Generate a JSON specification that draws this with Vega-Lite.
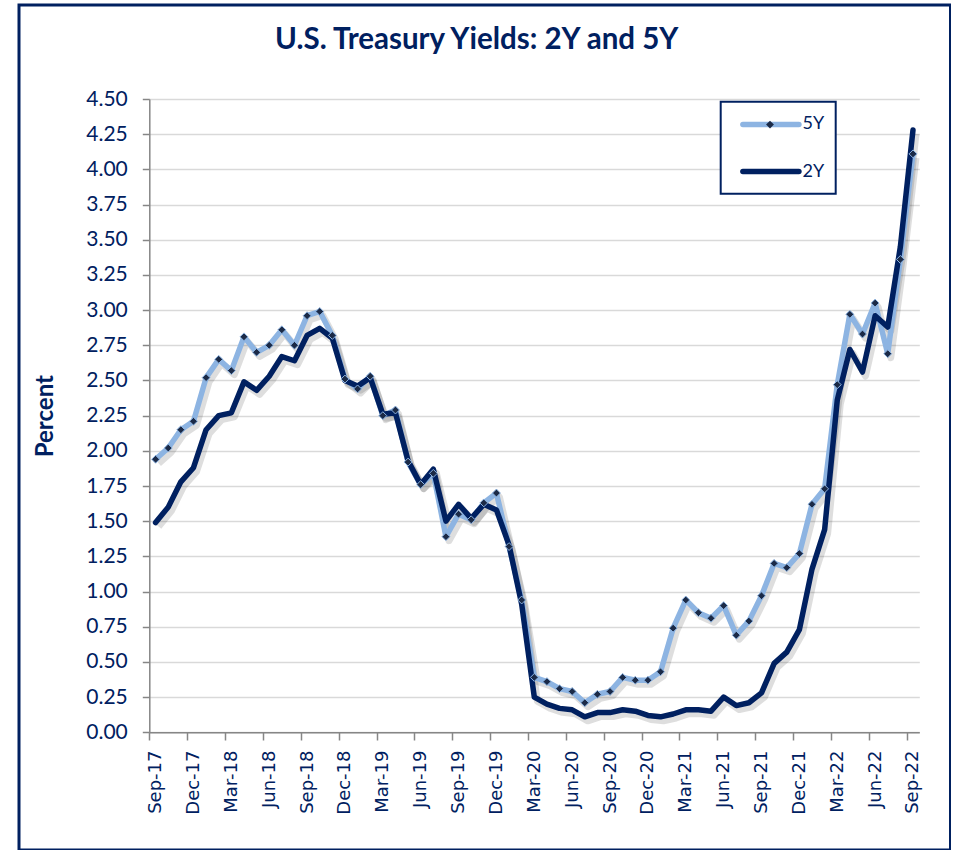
{
  "$schema": "https://vega.github.io/schema/vega-lite/v6.json",
  "width": 931.5,
  "height": 845,
  "autosize": {"type": "none"},
  "padding": {"left": 19, "top": 5, "right": 0, "bottom": 0},
  "background": "white",
  "title": {"text": "U.S. Treasury Yields: 2Y and 5Y", "font": "Lato", "fontSize": 29.5, "fontWeight": "bold", "color": "#002060", "anchor": "middle", "baseline": "alphabetic", "offset": -73, "dx": -8},
  "data": {"values": [
    {"month": "Sep-17", "series": "5Y", "value": 1.94}, {"month": "Oct-17", "series": "5Y", "value": 2.02}, {"month": "Nov-17", "series": "5Y", "value": 2.15}, {"month": "Dec-17", "series": "5Y", "value": 2.21},
    {"month": "Jan-18", "series": "5Y", "value": 2.52}, {"month": "Feb-18", "series": "5Y", "value": 2.65}, {"month": "Mar-18", "series": "5Y", "value": 2.57}, {"month": "Apr-18", "series": "5Y", "value": 2.81}, {"month": "May-18", "series": "5Y", "value": 2.70}, {"month": "Jun-18", "series": "5Y", "value": 2.75}, {"month": "Jul-18", "series": "5Y", "value": 2.86}, {"month": "Aug-18", "series": "5Y", "value": 2.75}, {"month": "Sep-18", "series": "5Y", "value": 2.96}, {"month": "Oct-18", "series": "5Y", "value": 2.99}, {"month": "Nov-18", "series": "5Y", "value": 2.82}, {"month": "Dec-18", "series": "5Y", "value": 2.51},
    {"month": "Jan-19", "series": "5Y", "value": 2.44}, {"month": "Feb-19", "series": "5Y", "value": 2.53}, {"month": "Mar-19", "series": "5Y", "value": 2.25}, {"month": "Apr-19", "series": "5Y", "value": 2.29}, {"month": "May-19", "series": "5Y", "value": 1.92}, {"month": "Jun-19", "series": "5Y", "value": 1.76}, {"month": "Jul-19", "series": "5Y", "value": 1.84}, {"month": "Aug-19", "series": "5Y", "value": 1.39}, {"month": "Sep-19", "series": "5Y", "value": 1.55}, {"month": "Oct-19", "series": "5Y", "value": 1.51}, {"month": "Nov-19", "series": "5Y", "value": 1.63}, {"month": "Dec-19", "series": "5Y", "value": 1.70},
    {"month": "Jan-20", "series": "5Y", "value": 1.32}, {"month": "Feb-20", "series": "5Y", "value": 0.94}, {"month": "Mar-20", "series": "5Y", "value": 0.39}, {"month": "Apr-20", "series": "5Y", "value": 0.36}, {"month": "May-20", "series": "5Y", "value": 0.31}, {"month": "Jun-20", "series": "5Y", "value": 0.29}, {"month": "Jul-20", "series": "5Y", "value": 0.21}, {"month": "Aug-20", "series": "5Y", "value": 0.27}, {"month": "Sep-20", "series": "5Y", "value": 0.29}, {"month": "Oct-20", "series": "5Y", "value": 0.39}, {"month": "Nov-20", "series": "5Y", "value": 0.37}, {"month": "Dec-20", "series": "5Y", "value": 0.37},
    {"month": "Jan-21", "series": "5Y", "value": 0.43}, {"month": "Feb-21", "series": "5Y", "value": 0.74}, {"month": "Mar-21", "series": "5Y", "value": 0.94}, {"month": "Apr-21", "series": "5Y", "value": 0.85}, {"month": "May-21", "series": "5Y", "value": 0.81}, {"month": "Jun-21", "series": "5Y", "value": 0.90}, {"month": "Jul-21", "series": "5Y", "value": 0.69}, {"month": "Aug-21", "series": "5Y", "value": 0.79}, {"month": "Sep-21", "series": "5Y", "value": 0.97}, {"month": "Oct-21", "series": "5Y", "value": 1.20}, {"month": "Nov-21", "series": "5Y", "value": 1.17}, {"month": "Dec-21", "series": "5Y", "value": 1.27},
    {"month": "Jan-22", "series": "5Y", "value": 1.62}, {"month": "Feb-22", "series": "5Y", "value": 1.73}, {"month": "Mar-22", "series": "5Y", "value": 2.47}, {"month": "Apr-22", "series": "5Y", "value": 2.97}, {"month": "May-22", "series": "5Y", "value": 2.83}, {"month": "Jun-22", "series": "5Y", "value": 3.05}, {"month": "Jul-22", "series": "5Y", "value": 2.69}, {"month": "Aug-22", "series": "5Y", "value": 3.36}, {"month": "Sep-22", "series": "5Y", "value": 4.11},
    {"month": "Sep-17", "series": "2Y", "value": 1.49}, {"month": "Oct-17", "series": "2Y", "value": 1.60}, {"month": "Nov-17", "series": "2Y", "value": 1.78}, {"month": "Dec-17", "series": "2Y", "value": 1.88},
    {"month": "Jan-18", "series": "2Y", "value": 2.15}, {"month": "Feb-18", "series": "2Y", "value": 2.25}, {"month": "Mar-18", "series": "2Y", "value": 2.27}, {"month": "Apr-18", "series": "2Y", "value": 2.49}, {"month": "May-18", "series": "2Y", "value": 2.43}, {"month": "Jun-18", "series": "2Y", "value": 2.53}, {"month": "Jul-18", "series": "2Y", "value": 2.67}, {"month": "Aug-18", "series": "2Y", "value": 2.64}, {"month": "Sep-18", "series": "2Y", "value": 2.82}, {"month": "Oct-18", "series": "2Y", "value": 2.87}, {"month": "Nov-18", "series": "2Y", "value": 2.80}, {"month": "Dec-18", "series": "2Y", "value": 2.50},
    {"month": "Jan-19", "series": "2Y", "value": 2.46}, {"month": "Feb-19", "series": "2Y", "value": 2.52}, {"month": "Mar-19", "series": "2Y", "value": 2.26}, {"month": "Apr-19", "series": "2Y", "value": 2.27}, {"month": "May-19", "series": "2Y", "value": 1.93}, {"month": "Jun-19", "series": "2Y", "value": 1.76}, {"month": "Jul-19", "series": "2Y", "value": 1.87}, {"month": "Aug-19", "series": "2Y", "value": 1.50}, {"month": "Sep-19", "series": "2Y", "value": 1.62}, {"month": "Oct-19", "series": "2Y", "value": 1.52}, {"month": "Nov-19", "series": "2Y", "value": 1.62}, {"month": "Dec-19", "series": "2Y", "value": 1.58},
    {"month": "Jan-20", "series": "2Y", "value": 1.33}, {"month": "Feb-20", "series": "2Y", "value": 0.91}, {"month": "Mar-20", "series": "2Y", "value": 0.25}, {"month": "Apr-20", "series": "2Y", "value": 0.20}, {"month": "May-20", "series": "2Y", "value": 0.17}, {"month": "Jun-20", "series": "2Y", "value": 0.16}, {"month": "Jul-20", "series": "2Y", "value": 0.11}, {"month": "Aug-20", "series": "2Y", "value": 0.14}, {"month": "Sep-20", "series": "2Y", "value": 0.14}, {"month": "Oct-20", "series": "2Y", "value": 0.16}, {"month": "Nov-20", "series": "2Y", "value": 0.15}, {"month": "Dec-20", "series": "2Y", "value": 0.12},
    {"month": "Jan-21", "series": "2Y", "value": 0.11}, {"month": "Feb-21", "series": "2Y", "value": 0.13}, {"month": "Mar-21", "series": "2Y", "value": 0.16}, {"month": "Apr-21", "series": "2Y", "value": 0.16}, {"month": "May-21", "series": "2Y", "value": 0.15}, {"month": "Jun-21", "series": "2Y", "value": 0.25}, {"month": "Jul-21", "series": "2Y", "value": 0.19}, {"month": "Aug-21", "series": "2Y", "value": 0.21}, {"month": "Sep-21", "series": "2Y", "value": 0.28}, {"month": "Oct-21", "series": "2Y", "value": 0.49}, {"month": "Nov-21", "series": "2Y", "value": 0.57}, {"month": "Dec-21", "series": "2Y", "value": 0.73},
    {"month": "Jan-22", "series": "2Y", "value": 1.16}, {"month": "Feb-22", "series": "2Y", "value": 1.44}, {"month": "Mar-22", "series": "2Y", "value": 2.36}, {"month": "Apr-22", "series": "2Y", "value": 2.72}, {"month": "May-22", "series": "2Y", "value": 2.56}, {"month": "Jun-22", "series": "2Y", "value": 2.96}, {"month": "Jul-22", "series": "2Y", "value": 2.88}, {"month": "Aug-22", "series": "2Y", "value": 3.45}, {"month": "Sep-22", "series": "2Y", "value": 4.28}
  ]},
  "encoding": {
    "x": {
      "field": "month", "type": "ordinal", "sort": null,
      "scale": {"type": "point", "padding": 0.5, "range": [130.3, 900.3]},
      "axis": {
        "title": null, "orient": "bottom", "offset": -117.7,
        "values": ["Sep-17", "Dec-17", "Mar-18", "Jun-18", "Sep-18", "Dec-18", "Mar-19", "Jun-19", "Sep-19", "Dec-19", "Mar-20", "Jun-20", "Sep-20", "Dec-20", "Mar-21", "Jun-21", "Sep-21", "Dec-21", "Mar-22", "Jun-22", "Sep-22"],
        "tickOffset": -6.31, "labelOffset": 6.31, "labelAngle": 270,
        "tickSize": 7.7, "tickColor": "#868686", "tickWidth": 1.5,
        "domainColor": "#868686", "domainWidth": 1.5, "grid": false,
        "labelFont": "DejaVu Sans", "labelFontSize": 18, "labelColor": "#002060", "labelPadding": 10
      }
    },
    "y": {
      "field": "value", "type": "quantitative", "title": "Percent",
      "scale": {"domain": [0, 4.5], "range": [727.3, 94], "nice": false, "zero": false},
      "axis": {
        "orient": "left", "offset": -130.3,
        "values": [0, 0.25, 0.5, 0.75, 1, 1.25, 1.5, 1.75, 2, 2.25, 2.5, 2.75, 3, 3.25, 3.5, 3.75, 4, 4.25, 4.5],
        "format": ".2f", "tickSize": 7, "tickColor": "#868686", "tickWidth": 1.5,
        "domainColor": "#868686", "domainWidth": 1.5,
        "grid": true, "gridColor": "#D9D9D9", "gridWidth": 1.5,
        "labelFont": "Lato", "labelFontSize": 21, "labelColor": "#002060", "labelPadding": 15,
        "titleFont": "Lato", "titleFontSize": 24, "titleFontWeight": "bold", "titleColor": "#002060", "titlePadding": 28
      }
    }
  },
  "layer": [
    {
      "transform": [{"filter": "datum.series === '5Y'"}],
      "mark": {"type": "line", "stroke": "#000000", "strokeOpacity": 0.13, "strokeWidth": 7, "xOffset": 3, "yOffset": 4, "strokeJoin": "round"}
    },
    {
      "transform": [{"filter": "datum.series === '2Y'"}],
      "mark": {"type": "line", "stroke": "#000000", "strokeOpacity": 0.13, "strokeWidth": 7, "xOffset": 3, "yOffset": 4, "strokeJoin": "round"}
    },
    {
      "transform": [{"filter": "datum.series === '5Y'"}],
      "mark": {"type": "line", "strokeWidth": 5.5, "strokeJoin": "round", "strokeCap": "round"},
      "encoding": {"color": {"field": "series", "type": "nominal", "scale": {"domain": ["5Y", "2Y"], "range": ["#8DB4E2", "#002060"]},
        "legend": {"orient": "none", "legendX": 701.7, "legendY": 96.7, "zindex": 1, "title": null, "symbolType": "M-3.06,0H3.06", "symbolSize": 335, "symbolStrokeWidth": 5.5,
          "labelFont": "Lato", "labelFontSize": 18, "labelColor": "#002060", "strokeColor": "#002060", "fillColor": "white",
          "padding": 10.7, "rowPadding": 24.2, "symbolOffset": 27.5, "labelOffset": 19.6,
          "encode": {"symbols": {"update": {"strokeCap": {"value": "round"}}}}}}
      }
    },
    {
      "transform": [{"filter": "datum.series === '2Y'"}],
      "mark": {"type": "line", "strokeWidth": 5.5, "strokeJoin": "round", "strokeCap": "round"},
      "encoding": {"color": {"field": "series", "type": "nominal"}}
    },
    {
      "transform": [{"filter": "datum.series === '5Y'"}],
      "mark": {"type": "point", "filled": true, "fill": "#1B2A47", "stroke": "#8DB4E2", "strokeWidth": 1, "size": 62, "opacity": 1},
      "encoding": {"shape": {"datum": "5Y", "scale": {"domain": ["5Y"], "range": ["diamond"]},
        "legend": {"orient": "none", "legendX": 746, "legendY": 114.6, "zindex": 2, "title": null, "padding": 0, "symbolOffset": 0,
          "symbolSize": 62, "symbolStrokeWidth": 1, "symbolFillColor": "#1B2A47", "symbolStrokeColor": "#8DB4E2", "labelExpr": "''", "labelOffset": 0}}}
    }
  ],
  "config": {
    "view": {"stroke": "#002060", "strokeWidth": 3},
    "legend": {"strokeWidth": 2}
  }
}
